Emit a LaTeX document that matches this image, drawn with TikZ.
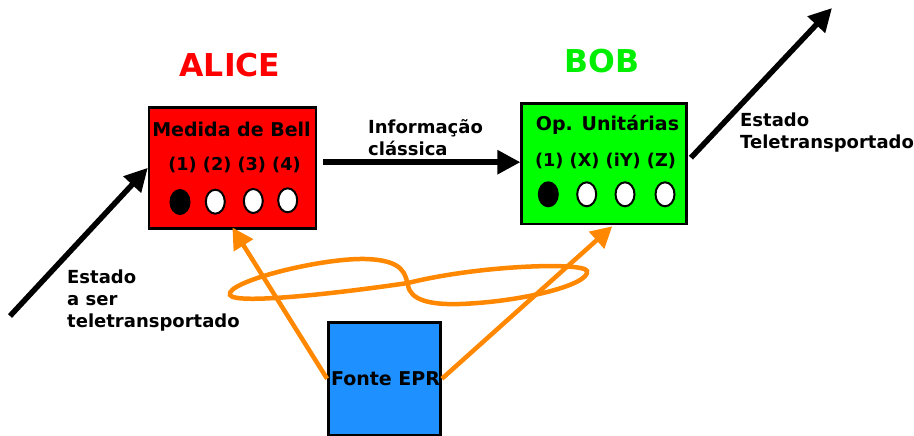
\documentclass[tikz,border=0pt]{standalone}
\usepackage{fontspec}
\setmainfont{DejaVu Sans}
\usetikzlibrary{arrows.meta,shapes.geometric}
\definecolor{aliceRed}{RGB}{255,0,0}
\definecolor{bobGreen}{RGB}{0,255,0}
\definecolor{bobText}{RGB}{0,238,0}
\definecolor{eprBlue}{RGB}{30,144,255}
\definecolor{epOrange}{RGB}{255,136,0}
\tikzset{
  box/.style={draw=black, line width=2.5pt, inner sep=0pt, minimum width=#1},
  lbl/.style={font=\fontsize{19}{22}\selectfont\bfseries, inner sep=0pt, anchor=base},
  numrow/.style={font=\fontsize{17.7}{22}\selectfont\bfseries, inner sep=0pt, anchor=base},
  lblw/.style={font=\fontsize{18}{22}\selectfont\bfseries, inner sep=0pt, anchor=base west},
  title/.style={font=\fontsize{31.5}{34}\selectfont\bfseries, inner sep=0pt, anchor=base},
  bit/.style={draw=black, line width=2pt, ellipse, inner sep=0pt, minimum width=19pt, minimum height=24pt, fill=white},
  bitOn/.style={bit, fill=black},
  blackarrow/.style={draw=black, line width=5.5pt, -{Triangle[length=23pt,width=23pt]}},
  orangearrow/.style={draw=epOrange, line width=4.5pt, -{Triangle[length=21pt,width=22pt]}},
}
\begin{document}
\begin{tikzpicture}[x=1pt,y=-1pt]
\useasboundingbox (0,0) rectangle (914,436);
% boxes
\node[box=166.7pt, minimum height=121pt, fill=aliceRed] (alice) at (232.4,167.8) {};
\node[box=165pt, minimum height=120.7pt, fill=bobGreen] (bob) at (604.2,163.7) {};
\node[box=112.4pt, minimum height=112.7pt, fill=eprBlue] (epr) at (384.5,378.7) {};
% titles
\node[title, text=aliceRed] (aliceT) at (230,77) {ALICE};
\node[title, text=bobText] (bobT) at (602,73) {BOB};
% alice contents
\node[lbl] (bellT) at (231.5,136) {Medida de Bell};
\node[numrow] (bellN) at (234.5,171) {(1) (2) (3) (4)};
\node[bitOn] (a1) at (180,202) {};
\node[bit] (a2) at (215.3,201.7) {};
\node[bit] (a3) at (253.3,201) {};
\node[bit] (a4) at (287.7,200.3) {};
% bob contents
\node[lbl] (opT) at (607.5,131) {Op. Unitárias};
\node[numrow] (opN) at (605.5,166) {(1) (X) (iY) (Z)};
\node[bitOn] (b1) at (548.3,194.3) {};
\node[bit] (b2) at (586.7,194.3) {};
\node[bit] (b3) at (625,194.3) {};
\node[bit] (b4) at (665,194.3) {};
% epr
\node[lbl] (eprT) at (385.5,385) {Fonte EPR};
% labels
\node[lblw] (inL1) at (67,283) {Estado};
\node[lblw] (inL2) at (67,305) {a ser};
\node[lblw] (inL3) at (67,327) {teletransportado};
\node[lblw] (icL1) at (368,133) {Informação};
\node[lblw] (icL2) at (368,155) {clássica};
\node[lblw] (outL1) at (740,126) {Estado};
\node[lblw] (outL2) at (740,148) {Teletransportado};
% entanglement loop
\draw[epOrange, line width=4.5pt]
  (230,295) .. controls (225,282) and (320,258) .. (365,259)
  .. controls (405,260) and (405,275) .. (408,285)
  .. controls (410,300) and (430,305) .. (460,304)
  .. controls (520,302) and (590,285) .. (587,271)
  .. controls (584,262) and (480,265) .. (408,283)
  .. controls (340,293) and (235,305) .. cycle;
% arrows
\coordinate (inStart) at (10,316);
\coordinate (outEnd) at (832,8);
\draw[blackarrow] (inStart) -- (alice.west);
\draw[blackarrow] ([shift={(6,-1.5)}]alice.east |- bob.west) -- ([shift={(0,-1.5)}]bob.west);
\draw[blackarrow] ([shift={(3,-6)}]bob.east) -- (outEnd);
\draw[orangearrow] (epr.west) -- ([shift={(0,-2)}]alice.south);
\draw[orangearrow] (epr.east) -- ([shift={(8,1)}]bob.south);
\end{tikzpicture}
\end{document}
